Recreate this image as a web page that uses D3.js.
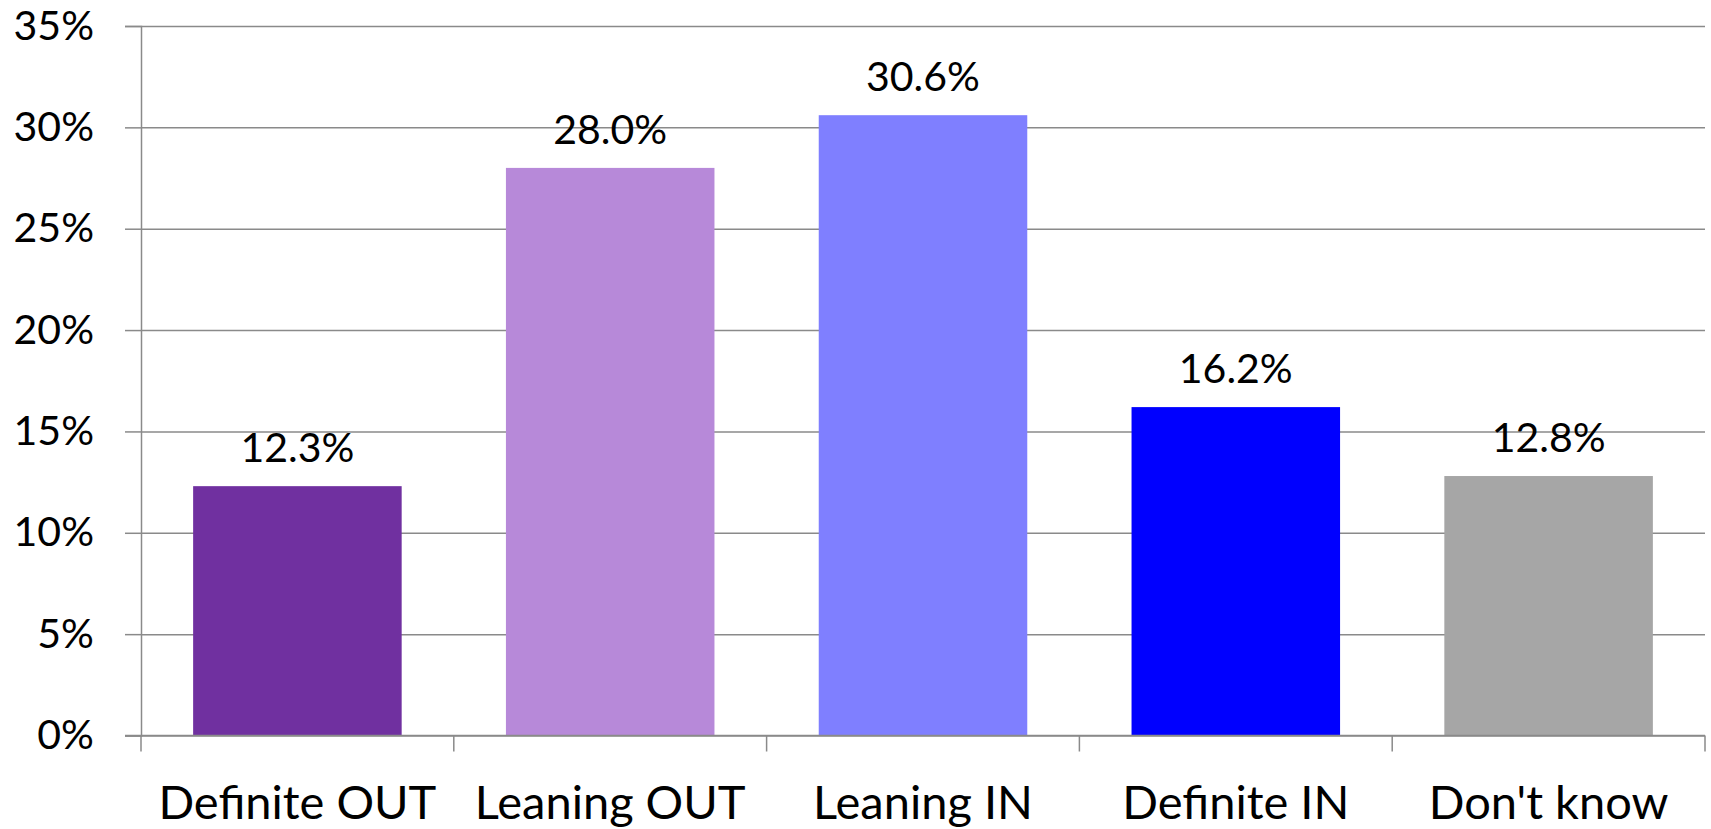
<!DOCTYPE html>
<html>
<head>
<meta charset="utf-8">
<script src="https://cdn.jsdelivr.net/npm/d3@7"></script>
<style>
  html, body { margin: 0; padding: 0; background: #ffffff; }
  svg { display: block; }
  text { font-family: Lato, "Noto Sans", sans-serif; fill: #000; }
</style>
</head>
<body>
<svg id="chart" width="1711" height="829"></svg>
<script>
const categories = ["Definite OUT", "Leaning OUT", "Leaning IN", "Definite IN", "Don't know"];
const values = [12.3, 28.0, 30.6, 16.2, 12.8];
const barColors = ["#7030A0", "#B789D9", "#7F7FFF", "#0000FF", "#A6A6A6"];
const yTicks = [0, 5, 10, 15, 20, 25, 30, 35];

const W = 1711, H = 829;
const margin = { top: 26, right: 6, bottom: 93.5, left: 141 };
const iw = W - margin.left - margin.right;
const ih = H - margin.top - margin.bottom;
const gridColor = "#8a8a8a";

const svg = d3.select("#chart");
const g = svg.append("g").attr("transform", `translate(${margin.left},${margin.top})`);

const x = d3.scaleBand().domain(categories).range([0, iw]).paddingInner(1/3).paddingOuter(1/6);
const y = d3.scaleLinear().domain([0, 35]).range([ih, 0]);

// gridlines
const grid = g.append("g").call(d3.axisLeft(y).tickValues(yTicks).tickSize(-iw).tickFormat(""));
grid.select(".domain").remove();
grid.selectAll(".tick line").attr("stroke", gridColor).attr("stroke-width", 1.5);

// y axis with outward ticks and labels
const yAxis = g.append("g").call(d3.axisLeft(y).tickValues(yTicks).tickSize(16).tickPadding(31).tickFormat(d => d + "%"));
yAxis.select(".domain").attr("stroke", gridColor).attr("stroke-width", 1.5);
yAxis.selectAll(".tick line").attr("stroke", gridColor).attr("stroke-width", 1.5);
yAxis.selectAll(".tick text").attr("font-family", "Lato").attr("font-size", 41).attr("fill", "#000");

// bars
g.selectAll("rect.bar").data(values).join("rect")
  .attr("class", "bar")
  .attr("x", (d, i) => x(categories[i]))
  .attr("width", x.bandwidth())
  .attr("y", d => y(d))
  .attr("height", d => ih - y(d))
  .attr("fill", (d, i) => barColors[i]);

// data labels
g.selectAll("text.val").data(values).join("text")
  .attr("class", "val")
  .attr("x", (d, i) => x(categories[i]) + x.bandwidth() / 2)
  .attr("y", d => y(d) - 24)
  .attr("text-anchor", "middle")
  .attr("font-size", 41)
  .text(d => d.toFixed(1) + "%");

// x axis: baseline, boundary ticks, labels
const step = x.step();
const bounds = d3.range(categories.length + 1).map(i => i * step);
const xAxis = g.append("g").attr("transform", `translate(0,${ih})`);
xAxis.append("line").attr("x1", -16).attr("x2", iw).attr("y1", 0).attr("y2", 0)
  .attr("stroke", gridColor).attr("stroke-width", 1.5);
xAxis.selectAll("line.bt").data(bounds).join("line")
  .attr("class", "bt")
  .attr("x1", d => d).attr("x2", d => d)
  .attr("y1", 0).attr("y2", 16)
  .attr("stroke", gridColor).attr("stroke-width", 1.5);
const xLabels = g.append("g").attr("transform", `translate(0,${ih})`)
  .call(d3.axisBottom(x).tickSize(0).tickPadding(0));
xLabels.select(".domain").remove();
xLabels.selectAll(".tick text")
  .attr("font-family", "Lato")
  .attr("font-size", 47)
  .attr("fill", "#000")
  .attr("dy", null)
  .attr("y", 83);
</script>
</body>
</html>
